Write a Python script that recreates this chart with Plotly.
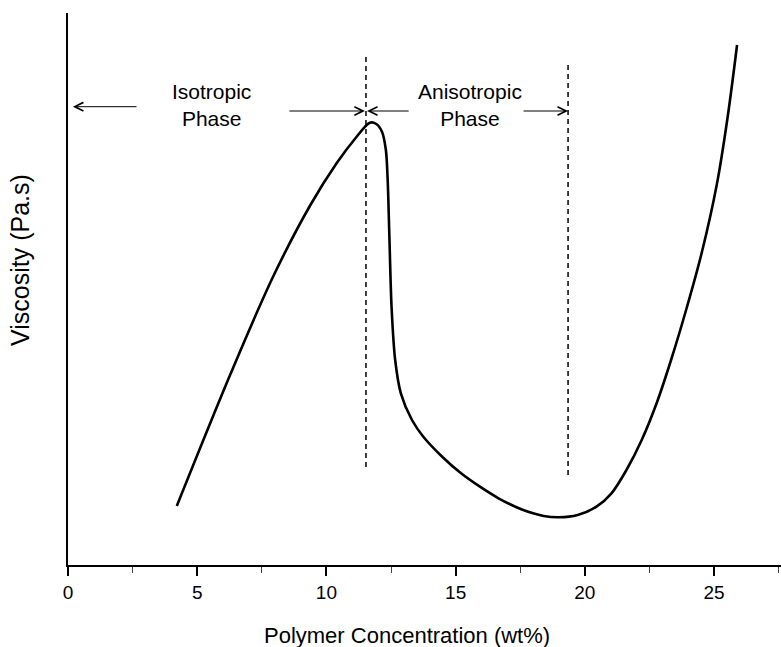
import plotly.graph_objects as go

# Viscosity curve (arbitrary units) vs polymer concentration (wt%)
conc = [4.21, 6.30, 7.93, 9.38, 10.40, 11.13, 11.68, 11.93, 12.15, 12.30, 12.37, 12.44,
        12.52, 12.66, 12.88, 13.31, 13.75, 14.48, 15.21, 15.94, 16.66, 17.54, 18.41,
        18.99, 19.72, 20.45, 21.03, 21.61, 22.20, 22.78, 23.36, 23.94, 24.53, 25.11,
        25.52, 25.89]
visc = [59, 191.7, 288, 360, 402, 427, 442.3, 441, 433.3, 415, 385, 325,
        258.3, 205, 171.7, 145, 128.3, 108.3, 91.7, 78.3, 66.7, 55.7, 49,
        47.7, 50, 58.3, 71.7, 95, 125, 162, 207, 257, 313, 381,
        447, 520]

# Phase boundaries
boundary_x = [11.53, 19.35]
boundary_top = [510, 500]
boundary_bottom = [98, 90]

# Phase labels
phase_labels = ["Isotropic<br>Phase", "Anisotropic<br>Phase"]
phase_label_x = [5.57, 15.56]
phase_label_y = [460, 460]

# Arrows: (tail_x, head_x, y)
arrow_tail = [2.71, 8.51, 13.24, 17.57]
arrow_head = [0.19, 11.49, 11.57, 19.35]
arrow_y = [458.3, 454, 454, 454]

x_ticks = [0, 5, 10, 15, 20, 25]

FONT = "Liberation Sans, Arial, sans-serif"

fig = go.Figure()
fig.add_trace(go.Scatter(x=conc, y=visc, mode="lines",
                         line=dict(color="black", width=2.6, shape="spline", smoothing=0.9),
                         showlegend=False, hoverinfo="skip"))
for bx, bt, bb in zip(boundary_x, boundary_top, boundary_bottom):
    fig.add_trace(go.Scatter(x=[bx, bx], y=[bb, bt], mode="lines",
                             line=dict(color="black", width=1.5, dash="5px,4px"),
                             showlegend=False, hoverinfo="skip"))

for t, h, y in zip(arrow_tail, arrow_head, arrow_y):
    fig.add_annotation(x=h, y=y, ax=t, ay=y, xref="x", yref="y", axref="x", ayref="y",
                       text="", showarrow=True, arrowhead=5, arrowsize=1.7,
                       arrowwidth=1, arrowcolor="black")

for txt, x, y in zip(phase_labels, phase_label_x, phase_label_y):
    fig.add_annotation(x=x, y=y, xref="x", yref="y", text=txt, showarrow=False,
                       font=dict(family=FONT, size=21, color="black"), align="center")

fig.add_annotation(x=13.1, y=0, xref="x", yref="paper", yshift=-70, text="Polymer Concentration (wt%)",
                   showarrow=False, font=dict(family=FONT, size=22, color="black"), yanchor="middle")
fig.add_annotation(x=0, y=305, xref="paper", yref="y", xshift=-48, text="Viscosity (Pa.s)",
                   textangle=-90, showarrow=False,
                   font=dict(family=FONT, size=25, color="black"),
                   xanchor="center")

fig.update_layout(
    width=781, height=647,
    margin=dict(l=68, r=0, t=13, b=82),
    plot_bgcolor="white", paper_bgcolor="white",
    xaxis=dict(range=[0, 27.59], showgrid=False, zeroline=False, showline=True,
               linecolor="black", linewidth=2, tickvals=x_ticks, ticks="outside",
               ticklen=9, tickwidth=1.5, tickcolor="black",
               tickfont=dict(family=FONT, size=19, color="black"),
               minor=dict(ticks="outside", dtick=2.5, tick0=0, ticklen=6, tickwidth=1.2,
                          tickcolor="#444")),
    yaxis=dict(range=[0, 552], showgrid=False, zeroline=False, showline=True,
               linecolor="black", linewidth=2, showticklabels=False, ticks=""),
)

fig.write_html("out.html")
